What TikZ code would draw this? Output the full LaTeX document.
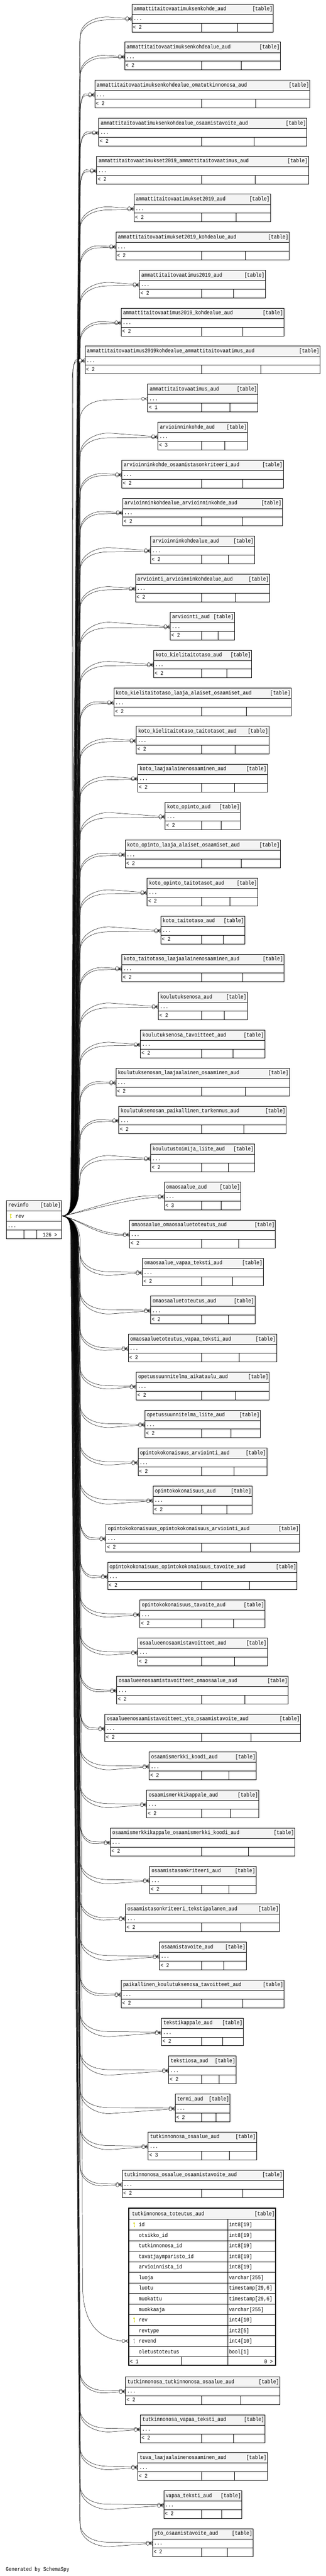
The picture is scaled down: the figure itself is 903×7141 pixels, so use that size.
\documentclass[tikz,border=0pt]{standalone}
\usepackage{fontspec}
\setmainfont[FakeStretch=0.85]{Liberation Mono}
\definecolor{hdrgray}{RGB}{244,244,244}
\definecolor{keyyel}{RGB}{214,214,0}
\definecolor{keygray}{RGB}{175,175,175}
\newcommand{\dgfont}{\fontsize{15.7}{18}\selectfont}
\tikzset{
  tline/.style={line width=0.9pt},
  edge/.style={line width=0.7pt, black},
  lbl/.style={inner sep=0pt, anchor=base west, font=\dgfont},
  lblr/.style={inner sep=0pt, anchor=base east, font=\dgfont},
}
\newcommand{\keyicon}[3]{%
  \fill[#3] (#1,#2-4.2) circle[radius=2.6pt];
  \fill[#3] (#1-0.9,#2-2.5) rectangle (#1+0.9,#2+7);
  \fill[#3] (#1+0.9,#2+3.5) rectangle (#1+2.5,#2+4.8);
  \fill[white] (#1,#2-4.6) circle[radius=0.8pt];
}
\newcommand{\crowmark}[2]{%
  \draw[edge] (#1-8.7,#2) -- (#1,#2-4.3) (#1-8.7,#2) -- (#1,#2) (#1-8.7,#2) -- (#1,#2+4.3);
  \draw[edge,fill=white] (#1-13,#2) circle[radius=4.3pt];
}
% #1 k, #2 name, #3 L, #4 R, #5 footer count, #6 edge list
\newcommand{\mytable}[6]{%
  \pgfmathsetmacro{\qT}{#1<59 ? 11.5+105.33*(#1-1) : 6588.6+105.2*(#1-60)}
  \pgfmathsetmacro{\qTa}{\qT+28.7}
  \pgfmathsetmacro{\qTb}{\qT+52.8}
  \pgfmathsetmacro{\qTc}{\qT+77}
  \pgfmathsetmacro{\qyr}{\qT+40.75}
  \pgfmathsetmacro{\qsp}{(559.3+#4)/2}
  \pgfmathsetmacro{\qs}{\qyr<3371 ? -1 : 1}
  \pgfmathsetmacro{\qlane}{\qs<0 ? 196+20*(#1-1)/30 : 216-20*(#1-34)/30}
  \pgfmathsetmacro{\qmx}{#3-17.3}
  \foreach \j in {#6} {
    \pgfmathsetmacro{\qA}{\j==0 ? 62 : 45}
    \pgfmathsetmacro{\qdd}{\j==0 ? -3*(\qs) : (\qs)*max(3,5+0.07*(#3-360))}
    \pgfmathsetmacro{\qmy}{#5==1 ? \qyr : \qyr+(\qs)*1.5*(2*\j-1)}
    \pgfmathsetmacro{\qce}{(#1==10 ? 200 : 221)+2*\j}
    \pgfmathsetmacro{\qD}{\qmx-\qce}
    \pgfmathsetmacro{\qxa}{\qce+min(35,0.3*\qD)}
    \pgfmathsetmacro{\qxb}{\qce+min(80,0.6*\qD)}
    \pgfmathsetmacro{\qlx}{\qlane+2.5*\j}
    \pgfmathsetmacro{\qya}{\qyr-(\qs)*\qA}
    \pgfmathsetmacro{\qyb}{\qyr-(\qs)*\qA*0.35}
    \pgfmathsetmacro{\qyc}{\qyr+\qdd}
    \pgfmathsetmacro{\qfa}{3370.85+(\qs)*25}
    \pgfmathsetmacro{\qfb}{3370.85+(\qs)*70}
    \pgfmathsetmacro{\qfc}{3370.85+(\qs)*8}
    \pgfmathsetmacro{\qxd}{\qmx-75}
    \coordinate (e#1-\j) at (\qmx,\qmy);
    \ifnum#1=32\relax
      \draw[edge] (rv.east) .. controls (220,\qfc) and (\qxd,\qyc) .. (e#1-\j);
    \else\ifnum#1=33\relax
      \draw[edge] (rv.east) .. controls (220,\qfc) and (\qxd,\qyc) .. (e#1-\j);
    \else
      \draw[edge] (rv.east) .. controls (195,3370.85) and (\qlx,\qfa) .. (\qlx,\qfb)
        -- (\qce,\qya) .. controls (\qce,\qyb) and (\qxa,\qyc) .. (\qxb,\qyc) -- (e#1-\j);
    \fi\fi
    \crowmark{#3}{\qmy}
  }
  \fill[hdrgray] (#3,\qT) rectangle (#4,\qTa);
  \draw[tline] (#3,\qT) rectangle (#4,\qTc);
  \draw[tline] (#3,\qTa) -- (#4,\qTa) (#3,\qTb) -- (#4,\qTb)
     (559.3,\qTb) -- (559.3,\qTc) (\qsp,\qTb) -- (\qsp,\qTc);
  \node[lbl] (n#1) at (#3+5.5,\qT+18.4) {#2};
  \node[lblr] at (#4-2,\qT+18.4) {[table]};
  \node[lbl] (r#1) at (#3+4,\qT+45) {...};
  \node[lbl] at (#3+3,\qT+69.5) {< #5};
}
\newcommand{\bigrow}[3]{%
  \pgfmathsetmacro{\qrt}{6152.3+29.32*#1}
  \draw[tline] (357,\qrt+29.32) -- (764,\qrt+29.32);
  \node[lbl] at (384.8,\qrt+20) {#2};
  \node[lbl] at (635,\qrt+20) {#3};
}
\begin{document}
\begin{tikzpicture}[x=1pt,y=-1pt]
\useasboundingbox (0,0) rectangle (903,7141);
\fill[white] (0,0) rectangle (903,7141);
% revinfo
\fill[hdrgray] (17.9,3327.6) rectangle (170.5,3356.3);
\draw[tline] (17.9,3327.6) rectangle (170.5,3433.6);
\draw[tline] (17.9,3356.3) -- (170.5,3356.3) (17.9,3385.4) -- (170.5,3385.4)
  (17.9,3409.5) -- (170.5,3409.5) (66.8,3409.5) -- (66.8,3433.6) (101.4,3409.5) -- (101.4,3433.6);
\node[lbl] (revname) at (23,3346) {revinfo};
\node[lblr] at (168.5,3346) {[table]};
\node[inner sep=0pt, minimum width=152.6pt, minimum height=29.1pt, anchor=north west] (rv) at (17.9,3356.3) {};
\keyicon{29.7}{3371}{keyyel}
\node[lbl] at (43,3376.5) {rev};
\node[lbl] at (21,3402) {...};
\node[lblr] at (159,3428) {126 >};

\mytable{1}{ammattitaitovaatimuksenkohde\_aud}{365.8}{758.1}{2}{0,1}
\mytable{2}{ammattitaitovaatimuksenkohdealue\_aud}{345.6}{777.6}{2}{0,1}
\mytable{3}{ammattitaitovaatimuksenkohdealue\_omatutkinnonosa\_aud}{262.7}{859.4}{2}{0,1}
\mytable{4}{ammattitaitovaatimuksenkohdealue\_osaamistavoite\_aud}{273.6}{850.8}{2}{0,1}
\mytable{5}{ammattitaitovaatimukset2019\_ammattitaitovaatimus\_aud}{267.9}{855.4}{2}{0,1}
\mytable{6}{ammattitaitovaatimukset2019\_aud}{371.5}{750.0}{2}{0,1}
\mytable{7}{ammattitaitovaatimukset2019\_kohdealue\_aud}{321.4}{801.8}{2}{0,1}
\mytable{8}{ammattitaitovaatimus2019\_aud}{386.5}{735.6}{2}{0,1}
\mytable{9}{ammattitaitovaatimus2019\_kohdealue\_aud}{335.8}{786.9}{2}{0,1}
\mytable{10}{ammattitaitovaatimus2019kohdealue\_ammattitaitovaatimus\_aud}{235.6}{887.7}{2}{0,1}
\mytable{11}{ammattitaitovaatimus\_aud}{409.6}{714.9}{1}{0}
\mytable{12}{arvioinninkohde\_aud}{437.8}{686.6}{3}{0,1}
\mytable{13}{arvioinninkohde\_osaamistasonkriteeri\_aud}{337.6}{785.7}{2}{0,1}
\mytable{14}{arvioinninkohdealue\_arvioinninkohde\_aud}{339.9}{782.8}{2}{0,1}
\mytable{15}{arvioinninkohdealue\_aud}{417.6}{705.6}{2}{0,1}
\mytable{16}{arviointi\_arvioinninkohdealue\_aud}{375.6}{747.7}{2}{0,1}
\mytable{17}{arviointi\_aud}{471.8}{650.3}{2}{0,1}
\mytable{18}{koto\_kielitaitotaso\_aud}{425.7}{697.6}{2}{0,1}
\mytable{19}{koto\_kielitaitotaso\_laaja\_alaiset\_osaamiset\_aud}{315.7}{807.6}{2}{0,1}
\mytable{20}{koto\_kielitaitotaso\_taitotasot\_aud}{377.9}{745.4}{2}{0,1}
\mytable{21}{koto\_laajaalainenosaaminen\_aud}{381.9}{741.4}{2}{0,1}
\mytable{22}{koto\_opinto\_aud}{458.0}{666.5}{2}{0,1}
\mytable{23}{koto\_opinto\_laaja\_alaiset\_osaamiset\_aud}{346.8}{777.6}{2}{0,1}
\mytable{24}{koto\_opinto\_taitotasot\_aud}{407.8}{714.9}{2}{0,1}
\mytable{25}{koto\_taitotaso\_aud}{445.9}{678.6}{2}{0,1}
\mytable{26}{koto\_taitotaso\_laajaalainenosaaminen\_aud}{337.6}{786.9}{2}{0,1}
\mytable{27}{koulutuksenosa\_aud}{438.9}{685.5}{2}{0,1}
\mytable{28}{koulutuksenosa\_tavoitteet\_aud}{389.4}{733.9}{2}{0,1}
\mytable{29}{koulutuksenosan\_laajaalainen\_osaaminen\_aud}{321.4}{802.4}{2}{0,1}
\mytable{30}{koulutuksenosan\_paikallinen\_tarkennus\_aud}{329.5}{793.8}{2}{0,1}
\mytable{31}{koulutustoimija\_liite\_aud}{417.6}{705.6}{2}{0,1}
\mytable{32}{omaosaalue\_aud}{455.6}{667.6}{3}{0,1}
\mytable{33}{omaosaalue\_omaosaaluetoteutus\_aud}{358.9}{763.8}{2}{0,1}
\mytable{34}{omaosaalue\_vapaa\_teksti\_aud}{394.6}{729.8}{2}{0,1}
\mytable{35}{omaosaaluetoteutus\_aud}{417.6}{706.8}{2}{0,1}
\mytable{36}{omaosaaluetoteutus\_vapaa\_teksti\_aud}{355.4}{766.7}{2}{0,1}
\mytable{37}{opetussuunnitelma\_aikataulu\_aud}{377.9}{746.5}{2}{0,1}
\mytable{38}{opetussuunnitelma\_liite\_aud}{401.5}{721.8}{2}{0,1}
\mytable{39}{opintokokonaisuus\_arviointi\_aud}{382.5}{739.6}{2}{0,1}
\mytable{40}{opintokokonaisuus\_aud}{424.0}{698.7}{2}{0,1}
\mytable{41}{opintokokonaisuus\_opintokokonaisuus\_arviointi\_aud}{293.8}{830.6}{2}{0,1}
\mytable{42}{opintokokonaisuus\_opintokokonaisuus\_tavoite\_aud}{298.4}{823.7}{2}{0,1}
\mytable{43}{opintokokonaisuus\_tavoite\_aud}{387.7}{734.4}{2}{0,1}
\mytable{44}{osaalueenosaamistavoitteet\_aud}{381.9}{741.4}{2}{0,1}
\mytable{45}{osaalueenosaamistavoitteet\_omaosaalue\_aud}{323.7}{799.5}{2}{0,1}
\mytable{46}{osaalueenosaamistavoitteet\_yto\_osaamistavoite\_aud}{290.9}{833.5}{2}{0,1}
\mytable{47}{osaamismerkki\_koodi\_aud}{413.6}{710.8}{2}{0,1}
\mytable{48}{osaamismerkkikappale\_aud}{406.7}{717.7}{2}{0,1}
\mytable{49}{osaamismerkkikappale\_osaamismerkki\_koodi\_aud}{305.9}{817.4}{2}{0,1}
\mytable{50}{osaamistasonkriteeri\_aud}{414.7}{709.7}{2}{0,1}
\mytable{51}{osaamistasonkriteeri\_tekstipalanen\_aud}{347.9}{774.8}{2}{0,1}
\mytable{52}{osaamistavoite\_aud}{441.8}{682.6}{2}{0,1}
\mytable{53}{paikallinen\_koulutuksenosa\_tavoitteet\_aud}{335.8}{787.4}{2}{0,1}
\mytable{54}{tekstikappale\_aud}{447.6}{674.5}{2}{0,1}
\mytable{55}{tekstiosa\_aud}{467.7}{654.4}{2}{0,1}
\mytable{56}{termi\_aud}{485.6}{637.7}{2}{0,1}
\mytable{57}{tutkinnonosa\_osaalue\_aud}{410.7}{711.4}{3}{0,1}
\mytable{58}{tutkinnonosa\_osaalue\_osaamistavoite\_aud}{338.7}{785.7}{2}{0,1}
\mytable{60}{tutkinnonosa\_tutkinnonosa\_osaalue\_aud}{347.9}{775.9}{2}{0,1}
\mytable{61}{tutkinnonosa\_vapaa\_teksti\_aud}{389.4}{735.0}{2}{0,1}
\mytable{62}{tuva\_laajaalainenosaaminen\_aud}{381.9}{741.4}{2}{0,1}
\mytable{63}{vapaa\_teksti\_aud}{453.9}{670.5}{2}{0,1}
\mytable{64}{yto\_osaamistavoite\_aud}{422.8}{701.6}{2}{0,1}

% big table tutkinnonosa_toteutus_aud
\coordinate (e59) at (338.1,6489.5);
\draw[edge] (rv.east) .. controls (195,3370.85) and (222,3395.85) .. (222,3440.85)
  -- (229,6340) .. controls (231,6440) and (272,6482) .. (e59);
\crowmark{355.4}{6489.5}
\fill[hdrgray] (357,6122.4) rectangle (764,6152.3);
\draw[tline] (357,6152.3) -- (764,6152.3) (631.9,6152.3) -- (631.9,6557) (502.9,6533.5) -- (502.9,6557);
\node[lbl] (n59) at (365.8,6141.4) {tutkinnonosa\_toteutus\_aud};
\node[lblr] at (762,6141.4) {[table]};
\bigrow{0}{id}{int8[19]}
\bigrow{1}{otsikko\_id}{int8[19]}
\bigrow{2}{tutkinnonosa\_id}{int8[19]}
\bigrow{3}{tavatjaymparisto\_id}{int8[19]}
\bigrow{4}{arvioinnista\_id}{int8[19]}
\bigrow{5}{luoja}{varchar[255]}
\bigrow{6}{luotu}{timestamp[29,6]}
\bigrow{7}{muokattu}{timestamp[29,6]}
\bigrow{8}{muokkaaja}{varchar[255]}
\bigrow{9}{rev}{int4[10]}
\bigrow{10}{revtype}{int2[5]}
\bigrow{11}{revend}{int4[10]}
\bigrow{12}{oletustoteutus}{bool[1]}
\keyicon{372}{6167}{keyyel}
\keyicon{372}{6430.8}{keyyel}
\keyicon{372}{6489.5}{keygray}
\node[lbl] at (360,6552) {< 1};
\node[lblr] at (757,6552) {0 >};
\draw[line width=3pt] (356.9,6120.9) rectangle (764.1,6557.2);

\node[lbl] (gen) at (16,7127) {Generated by SchemaSpy};
\end{tikzpicture}
\end{document}
